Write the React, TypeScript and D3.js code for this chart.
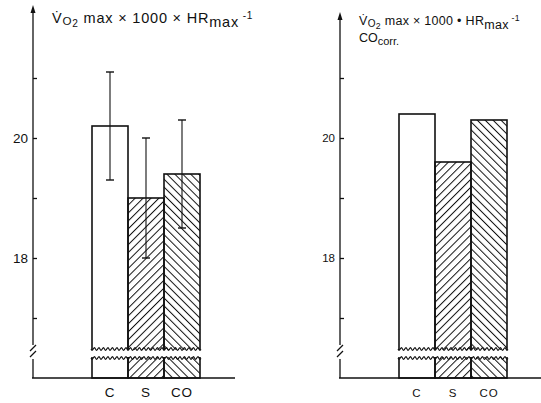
import React, { useEffect } from 'react';
import * as d3 from 'd3';

const categories = ['C', 'S', 'CO'];
const leftMeans = [20.2, 19.0, 19.4];
const leftErrors = [0.9, 1.0, 0.9];
const rightMeans = [20.4, 19.6, 20.3];
const tickValues = [17, 18, 19, 20, 21];
const tickLabels = [18, 20];

const FONT = '"Liberation Sans", Arial, sans-serif';

interface PanelOpts {
  axisX: number;
  axisTop: number;
  baseEnd: number;
  means: number[];
  errors?: number[];
  labelSize: number;
}

const App = () => {
  useEffect(() => {
    draw();
  }, []);

  const draw = () => {
    document.body.style.margin = '0';
    d3.select('#chart').select('svg').remove();

    const svg = d3
      .select('#chart')
      .append('svg')
      .attr('width', 541)
      .attr('height', 403)
      .style('display', 'block')
      .style('background', '#fff');

    const defs = svg.append('defs');
    const addHatch = (id: string, angle: number) => {
      const p = defs
        .append('pattern')
        .attr('id', id)
        .attr('patternUnits', 'userSpaceOnUse')
        .attr('width', 5.6)
        .attr('height', 5.6)
        .attr('patternTransform', `rotate(${angle})`);
      p.append('line')
        .attr('x1', 0.5)
        .attr('y1', 0)
        .attr('x2', 0.5)
        .attr('y2', 5.6)
        .attr('stroke', '#111')
        .attr('stroke-width', 1);
    };
    addHatch('hatch-s', 45);
    addHatch('hatch-co', -45);
    const fills = ['#fff', 'url(#hatch-s)', 'url(#hatch-co)'];

    const y = d3.scaleLinear().domain([16, 22]).range([378, 18]);
    const base = y(16);
    const breakTop = 349;
    const breakBottom = 358;

    // wavy line for the cut bars
    const wavy = (x1: number, x2: number, yy: number) => {
      const pts: [number, number][] = [];
      for (let x = x1; x <= x2; x += 0.5) {
        pts.push([x, yy + 1.3 * Math.sin(((x - x1) / 4.5) * 2 * Math.PI)]);
      }
      return d3.line()(pts) || '';
    };

    const drawPanel = (o: PanelOpts) => {
      const g = svg.append('g');
      const x = d3
        .scaleBand()
        .domain(categories)
        .range([o.axisX + 59, o.axisX + 167])
        .padding(0);

      // bars
      g.selectAll('.bar')
        .data(o.means)
        .enter()
        .append('rect')
        .attr('x', (_d, i) => x(categories[i]) || 0)
        .attr('y', (d) => y(d))
        .attr('width', x.bandwidth())
        .attr('height', (d) => base - y(d))
        .attr('fill', (_d, i) => fills[i])
        .attr('stroke', '#111')
        .attr('stroke-width', 1.6);

      // bar break
      const bx1 = (x(categories[0]) || 0) - 1;
      const bx2 = (x(categories[categories.length - 1]) || 0) + x.bandwidth() + 1;
      g.append('rect')
        .attr('x', bx1)
        .attr('y', breakTop + 1)
        .attr('width', bx2 - bx1)
        .attr('height', breakBottom - breakTop - 2)
        .attr('fill', '#fff');
      [breakTop, breakBottom].forEach((yy) => {
        g.append('path')
          .attr('d', wavy(bx1, bx2, yy))
          .attr('fill', 'none')
          .attr('stroke', '#111')
          .attr('stroke-width', 1.1);
      });

      // error bars
      if (o.errors) {
        const errs = o.errors;
        const eg = g
          .selectAll('.err')
          .data(o.means)
          .enter()
          .append('g')
          .attr('transform', (_d, i) => `translate(${(x(categories[i]) || 0) + x.bandwidth() / 2},0)`);
        eg.append('line')
          .attr('y1', (d, i) => y(d + errs[i]))
          .attr('y2', (d, i) => y(d - errs[i]))
          .attr('stroke', '#111')
          .attr('stroke-width', 1.1);
        [1, -1].forEach((s) => {
          eg.append('line')
            .attr('x1', -4)
            .attr('x2', 4)
            .attr('y1', (d, i) => y(d + s * errs[i]))
            .attr('y2', (d, i) => y(d + s * errs[i]))
            .attr('stroke', '#111')
            .attr('stroke-width', 1.4);
        });
      }

      // y axis with break
      const axis = g
        .append('g')
        .attr('transform', `translate(${o.axisX},0)`)
        .call(
          d3
            .axisLeft(y)
            .tickValues(tickValues)
            .tickSize(-4)
            .tickPadding(5)
            .tickFormat((d) => (tickLabels.includes(+d) ? String(d) : ''))
        );
      axis.select('.domain').remove();
      axis.selectAll('.tick line').attr('stroke', '#111').attr('stroke-width', 1.3);
      axis
        .selectAll('.tick text')
        .attr('fill', '#111')
        .style('font-family', FONT)
        .style('font-size', `${o.labelSize}px`);

      const ax = o.axisX;
      g.append('line')
        .attr('x1', ax)
        .attr('x2', ax)
        .attr('y1', o.axisTop + 5)
        .attr('y2', 345)
        .attr('stroke', '#111')
        .attr('stroke-width', 1.3);
      g.append('line')
        .attr('x1', ax)
        .attr('x2', ax)
        .attr('y1', 359)
        .attr('y2', base)
        .attr('stroke', '#111')
        .attr('stroke-width', 1.3);
      [0, 6].forEach((dy) => {
        g.append('line')
          .attr('x1', ax - 3)
          .attr('x2', ax + 3)
          .attr('y1', 351 + dy)
          .attr('y2', 345 + dy)
          .attr('stroke', '#111')
          .attr('stroke-width', 1.2);
      });
      g.append('path')
        .attr('d', `M${ax - 2.5},${o.axisTop + 8}L${ax},${o.axisTop}L${ax + 2.5},${o.axisTop + 8}Z`)
        .attr('fill', '#111');

      // baseline
      g.append('line')
        .attr('x1', ax - 1)
        .attr('x2', o.baseEnd)
        .attr('y1', base)
        .attr('y2', base)
        .attr('stroke', '#111')
        .attr('stroke-width', 1.4);

      // category labels
      g.selectAll('.cat')
        .data(categories)
        .enter()
        .append('text')
        .attr('x', (d) => (x(d) || 0) + x.bandwidth() / 2)
        .attr('y', 397)
        .attr('text-anchor', 'middle')
        .attr('fill', '#111')
        .style('font-family', FONT)
        .style('font-size', `${o.labelSize}px`)
        .style('letter-spacing', '1px')
        .text((d) => d);

      return g;
    };

    const left = drawPanel({
      axisX: 33,
      axisTop: 5,
      baseEnd: 235,
      means: leftMeans,
      errors: leftErrors,
      labelSize: 13.5,
    });
    const right = drawPanel({
      axisX: 340,
      axisTop: 12,
      baseEnd: 541,
      means: rightMeans,
      labelSize: 11.5,
    });

    // titles
    const title = (
      g: d3.Selection<SVGGElement, unknown, HTMLElement, any>,
      tx: number,
      ty: number,
      size: number,
      spacing: number,
      sep: string
    ) => {
      const t = g
        .append('text')
        .attr('x', tx)
        .attr('y', ty)
        .attr('fill', '#111')
        .style('font-family', FONT)
        .style('font-size', `${size}px`)
        .style('letter-spacing', `${spacing}px`);
      t.append('tspan').text('V\u0307');
      t.append('tspan').attr('dy', 2).style('font-size', `${size * 0.8}px`).text('O');
      t.append('tspan').attr('dy', 1.5).style('font-size', `${size * 0.7}px`).text('2');
      t.append('tspan').attr('dy', -3.5).text(` max ${sep[0]} 1000 ${sep[1]} HR`);
      t.append('tspan').attr('dy', 4).text('max');
      t.append('tspan').attr('dy', -8).style('font-size', `${size * 0.7}px`).text(' -1');
      return t;
    };
    title(left, 52, 23, 14.5, 0.8, '××');
    title(right, 359, 25, 12.5, 0.3, '×•');
    const t2 = right
      .append('text')
      .attr('x', 359)
      .attr('y', 42)
      .attr('fill', '#111')
      .style('font-family', FONT)
      .style('font-size', '12.5px');
    t2.append('tspan').text('CO');
    t2.append('tspan').attr('dy', 3).style('font-size', '11px').text('corr.');
  };

  return <div id="chart"></div>;
};

export default App;
